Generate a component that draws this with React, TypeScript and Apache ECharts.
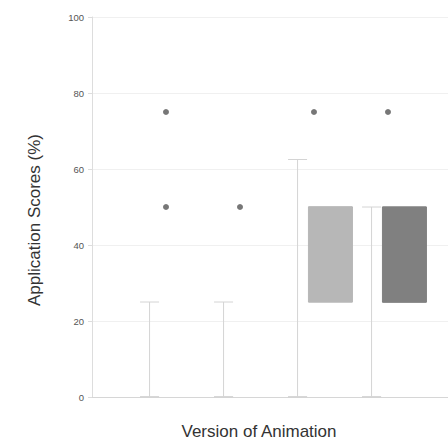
import React, { useEffect, useRef } from "react";
import * as echarts from "echarts";

const categories = ["", "Version 1", "Version 2", "Version 3", "Version 4", ""];
const whiskerLow = [0, 0, 0, 0];
const q1 = [0, 0, 25, 25];
const median = [0, 0, 50, 25];
const q3 = [0, 0, 50, 50];
const whiskerHigh = [25, 25, 62.5, 50];
const hasBox = [false, false, true, true];
const boxColors = ["#b7b7b7", "#b7b7b7", "#b7b7b7", "#808080"];
const outliers: [number, number][] = [
  [1, 50],
  [1, 75],
  [2, 50],
  [3, 75],
  [4, 75],
];

export default function App() {
  const ref = useRef<HTMLDivElement>(null);
  useEffect(() => {
    if (!ref.current) return;
    const chart = echarts.init(ref.current, null, { renderer: "svg" });
    const whiskerData: any[] = ["-"];
    const boxData: any[] = ["-"];
    for (let i = 0; i < q1.length; i++) {
      whiskerData.push([whiskerLow[i], whiskerLow[i], whiskerLow[i], whiskerLow[i], whiskerHigh[i]]);
      boxData.push(
        hasBox[i]
          ? {
              value: [q1[i], q1[i], median[i], q3[i], q3[i]],
              itemStyle: { color: boxColors[i], borderColor: boxColors[i] },
            }
          : "-"
      );
    }
    whiskerData.push("-");
    boxData.push("-");
    chart.setOption({
      animation: false,
      grid: { left: 92, top: 17, width: 370, height: 380, containLabel: false },
      xAxis: {
        type: "category",
        data: categories,
        boundaryGap: false,
        axisLine: { show: true, lineStyle: { color: "#d6d6d6" } },
        axisTick: { show: false },
        axisLabel: { show: false },
        splitLine: { show: false },
      },
      yAxis: {
        type: "value",
        min: 0,
        max: 100,
        interval: 20,
        axisLine: { show: true, lineStyle: { color: "#dddddd" } },
        axisTick: { show: true, length: 4, lineStyle: { color: "#dddddd" } },
        axisLabel: {
          fontSize: 9.5,
          color: "#555",
          margin: 8,
          fontFamily: "Liberation Sans, Arial, sans-serif",
        },
        splitLine: { show: true, lineStyle: { color: "#f0f0f0" } },
      },
      graphic: [
        {
          type: "text",
          x: 34,
          y: 220,
          rotation: Math.PI / 2,
          style: {
            text: "Application Scores (%)",
            fontSize: 17,
            fill: "#333",
            fontFamily: "Liberation Sans, Arial, sans-serif",
            textAlign: "center",
            textVerticalAlign: "middle",
          },
        },
        {
          type: "text",
          x: 259,
          y: 431,
          style: {
            text: "Version of Animation",
            fontSize: 17,
            fill: "#333",
            fontFamily: "Liberation Sans, Arial, sans-serif",
            textAlign: "center",
            textVerticalAlign: "middle",
          },
        },
      ],
      series: [
        {
          type: "boxplot",
          data: whiskerData,
          boxWidth: [19, 19],
          itemStyle: { color: "#fff", borderColor: "#d4d4d4", borderWidth: 1 },
          z: 2,
        },
        {
          type: "boxplot",
          data: boxData,
          boxWidth: [44, 44],
          itemStyle: { borderWidth: 1 },
          z: 3,
        },
        {
          type: "scatter",
          data: outliers,
          symbolSize: 6,
          itemStyle: { color: "#555" },
          z: 4,
        },
      ],
    });
    return () => chart.dispose();
  }, []);
  return (
    <div style={{ position: "absolute", left: 0, top: 0, width: 448, height: 445, overflow: "hidden" }}>
      <div ref={ref} style={{ width: 480, height: 445 }} />
    </div>
  );
}
